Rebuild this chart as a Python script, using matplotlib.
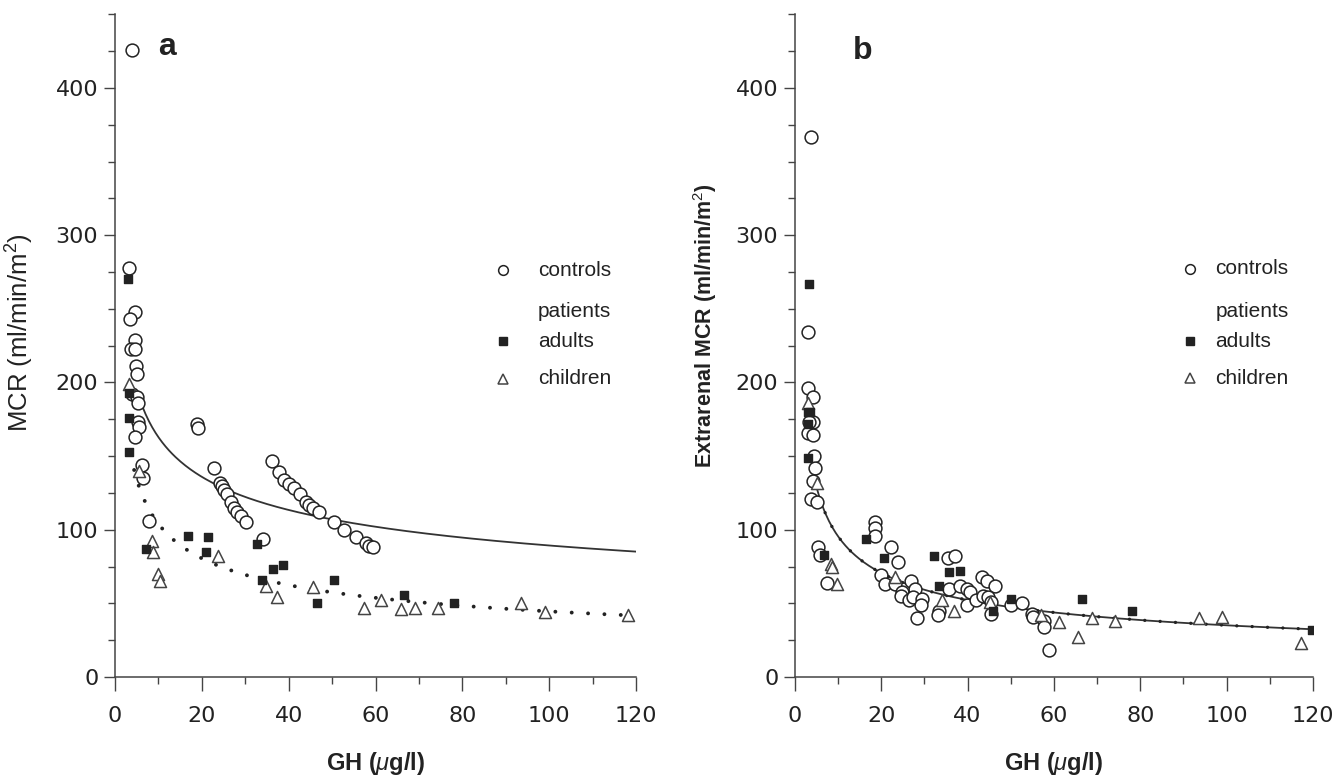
import numpy as np
import matplotlib
matplotlib.use("Agg")
import matplotlib.pyplot as plt
from matplotlib.ticker import MultipleLocator

plt.rcParams['font.family'] = ['Liberation Sans', 'DejaVu Sans']
plt.rcParams['mathtext.fontset'] = 'custom'
plt.rcParams['mathtext.rm'] = 'Liberation Sans'
plt.rcParams['mathtext.it'] = 'Liberation Sans:italic'
plt.rcParams['mathtext.bf'] = 'Liberation Sans:bold'

INK = "#222222"

# ---- panel a : MCR ----
ctrl_a_x = [3.9, 3.3, 4.5, 3.5, 4.6, 3.6, 4.6, 4.9, 5.0, 4.0, 5.0, 5.4, 5.4, 5.6, 4.6,
            6.1, 6.5, 7.8, 18.8, 19.0, 22.7, 24.2, 24.6, 25.2, 25.8, 26.8, 27.5, 28.2,
            28.9, 30.2, 34.0, 36.2, 37.7, 39.0, 40.0, 41.2, 42.5, 44.0, 44.7, 45.7,
            46.9, 50.4, 52.8, 55.4, 57.9, 58.6, 59.3]
ctrl_a_y = [426, 278, 248, 243, 229, 223, 223, 211, 206, 192, 190, 186, 173, 170, 163,
            144, 135, 106, 172, 169, 142, 132, 130, 127, 124, 119, 115, 112,
            109, 105, 94, 147, 139, 134, 131, 128, 124, 119, 117, 115,
            112, 105, 100, 95, 91, 89, 88]

adult_a_x = [3.0, 3.3, 3.3, 3.3, 7.1, 16.9, 21.3, 21.0, 32.7, 36.3, 38.8, 33.9, 50.4, 46.5, 66.5, 78.0]
adult_a_y = [270, 193, 176, 153, 87, 96, 95, 85, 90, 73, 76, 66, 66, 50, 56, 50]

child_a_x = [3.3, 5.6, 8.4, 8.8, 10.0, 10.3, 23.7, 34.8, 37.3, 45.7, 57.3, 61.2, 65.8,
             69.0, 74.3, 93.4, 99.0, 118.2]
child_a_y = [199, 140, 92, 85, 70, 65, 82, 62, 54, 61, 47, 52, 46, 47, 47, 50, 44, 42]

# power-law fits y = A * x**B, starting at x0 (controls solid, patients dotted)
fit_a_ctrl = (297.0, -0.261, 5.5)
fit_a_pat = (242.5, -0.368, 4.4)

# ---- panel b : extrarenal MCR ----
ctrl_b_x = [3.8, 3.0, 3.1, 4.1, 4.1, 3.3, 3.1, 4.3, 4.4, 4.6, 4.3, 3.8, 5.0, 5.4, 5.8,
            7.4, 18.5, 18.5, 18.5, 22.2, 23.9, 20.0, 20.8, 23.3, 24.8, 24.5, 26.8, 27.9,
            26.5, 27.4, 29.5, 29.1, 28.2, 33.3, 33.1, 35.4, 37.2, 35.8, 38.3, 39.8,
            40.5, 39.8, 42.0, 43.3, 44.5, 46.4, 43.5, 44.8, 45.4, 45.4, 50.0, 52.5,
            55.0, 55.2, 57.7, 57.6, 58.9]
ctrl_b_y = [367, 234, 196, 190, 173, 173, 166, 164, 150, 142, 133, 121, 119, 88, 83,
            64, 105, 101, 96, 88, 78, 69, 63, 63, 58, 55, 65, 60,
            52, 54, 53, 49, 40, 45, 42, 81, 82, 60, 62, 60,
            58, 49, 52, 68, 65, 62, 55, 54, 51, 43, 49, 50,
            43, 41, 38, 34, 18]

adult_b_x = [3.2, 3.1, 3.5, 3.1, 3.1, 6.8, 16.5, 20.6, 32.3, 35.8, 38.3, 33.4, 46.0,
             50.0, 66.6, 78.0, 119.8]
adult_b_y = [267, 180, 180, 172, 149, 83, 94, 81, 82, 71, 72, 62, 45, 53, 53, 45, 32]

child_b_x = [3.1, 5.2, 8.3, 8.5, 9.8, 23.3, 34.0, 36.8, 45.2, 57.0, 61.1, 65.6, 68.9,
             74.2, 93.5, 99.0, 117.3]
child_b_y = [186, 132, 77, 75, 63, 68, 52, 45, 51, 42, 37, 27, 40, 38, 40, 41, 23]

fit_b = (260.0, -0.435, 4.8)

x_ticks = [0, 20, 40, 60, 80, 100, 120]
y_ticks = [0, 100, 200, 300, 400]


def fit_curve(fit, x_end=120):
    a, b, x0 = fit
    xs = np.linspace(x0, x_end, 300)
    return xs, a * xs ** b


def style_axes(ax):
    for side in ("top", "right"):
        ax.spines[side].set_visible(False)
    for side in ("left", "bottom"):
        ax.spines[side].set_color("#444444")
        ax.spines[side].set_linewidth(1.1)
    ax.set_xlim(0, 120)
    ax.set_ylim(0, 450)
    ax.set_xticks(x_ticks)
    ax.set_yticks(y_ticks)
    ax.xaxis.set_minor_locator(MultipleLocator(10))
    ax.yaxis.set_minor_locator(MultipleLocator(25))
    ax.tick_params(axis="x", which="major", length=10, width=1, pad=11,
                   colors="#444444", labelcolor=INK)
    ax.tick_params(axis="x", which="minor", length=5, width=1, colors="#444444")
    ax.tick_params(axis="y", which="major", length=8, width=1, pad=4,
                   colors="#444444", labelcolor=INK)
    ax.tick_params(axis="y", which="minor", length=5, width=1, colors="#444444")
    for lab in ax.get_xticklabels() + ax.get_yticklabels():
        lab.set_family("DejaVu Sans")
        lab.set_fontsize(16)
    ax.set_xlabel(r"GH ($\mu$g/l)", fontsize=17, color=INK, fontweight="bold",
                  va="center")
    ax.xaxis.set_label_coords(0.5, -0.13)


def draw_points(ax, cx, cy, ax_, ay, chx, chy):
    ax.scatter(cx, cy, s=85, facecolors="white", edgecolors=INK, linewidths=1.1, zorder=3)
    ax.scatter(chx, chy, s=75, marker="^", facecolors="white", edgecolors="#444444",
               linewidths=1.1, zorder=3)
    ax.scatter(ax_, ay, s=40, marker="s", color=INK, zorder=4)


def draw_key(ax, mx, tx, ys):
    tr = ax.transAxes
    kw = dict(transform=tr, fontsize=15, color=INK, va="center", ha="left")
    ax.plot([mx], [ys[0]], "o", ms=7, mfc="white", mec=INK, mew=1.1, transform=tr, clip_on=False)
    ax.text(tx, ys[0], "controls", **kw)
    ax.text(tx, ys[1], "patients", **kw)
    ax.plot([mx], [ys[2]], "s", ms=5.5, color=INK, transform=tr, clip_on=False)
    ax.text(tx, ys[2], "adults", **kw)
    ax.plot([mx], [ys[3]], "^", ms=7, mfc="white", mec="#444444", mew=1.1, transform=tr, clip_on=False)
    ax.text(tx, ys[3], "children", **kw)


fig = plt.figure(figsize=(13.36, 7.75), dpi=100)
ax_a = fig.add_axes([0.0861, 0.1265, 0.390, 0.855])
ax_b = fig.add_axes([0.595, 0.1265, 0.3877, 0.855])

# panel a
style_axes(ax_a)
xs, ys = fit_curve(fit_a_ctrl)
ax_a.plot(xs, ys, color="#333333", lw=1.3, zorder=2)
xs, ys = fit_curve(fit_a_pat)
ax_a.plot(xs, ys, color=INK, lw=2.8, linestyle=(0, (0.01, 4.2)),
          dash_capstyle="round", zorder=2)
draw_points(ax_a, ctrl_a_x, ctrl_a_y, adult_a_x, adult_a_y, child_a_x, child_a_y)
ax_a.set_ylabel("MCR (ml/min/m$^2$)", fontsize=18.5, color=INK, va="center")
ax_a.yaxis.set_label_coords(-0.182, 0.52)
ax_a.text(0.1, 0.95, "a", transform=ax_a.transAxes, fontsize=23, fontweight="bold",
          color=INK, va="center", ha="center")
draw_key(ax_a, 0.745, 0.812, [0.614, 0.551, 0.507, 0.450])

# panel b
style_axes(ax_b)
xs, ys = fit_curve(fit_b)
ax_b.plot(xs, ys, color="#333333", lw=1.3, zorder=2)
ax_b.plot(xs, ys, color=INK, lw=2.4, linestyle=(0, (0.01, 4.6)),
          dash_capstyle="round", zorder=2)
draw_points(ax_b, ctrl_b_x, ctrl_b_y, adult_b_x, adult_b_y, child_b_x, child_b_y)
ax_b.set_ylabel("Extrarenal MCR (ml/min/m$^2$)", fontsize=15.5, color=INK,
                fontweight="bold", va="center")
ax_b.yaxis.set_label_coords(-0.174, 0.53)
ax_b.text(0.13, 0.945, "b", transform=ax_b.transAxes, fontsize=23, fontweight="bold",
          color=INK, va="center", ha="center")
draw_key(ax_b, 0.762, 0.812, [0.616, 0.551, 0.507, 0.451])

fig.savefig("out.png", dpi=100, facecolor="white")
